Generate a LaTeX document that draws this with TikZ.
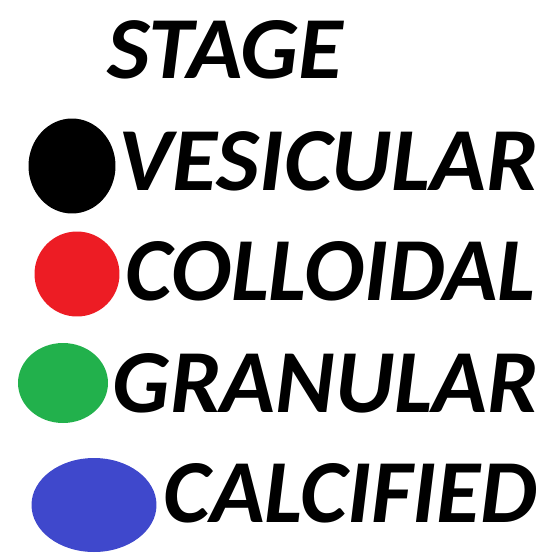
\documentclass[tikz,border=0pt]{standalone}
\usepackage{fontspec}
\setmainfont{Carlito}
\usetikzlibrary{positioning,shapes.geometric}
\definecolor{paintred}{HTML}{ED1C24}
\definecolor{paintgreen}{HTML}{22B14C}
\definecolor{paintblue}{HTML}{3F48CC}
% word squeezed into a given width, cap height fixed
\newcommand{\stageword}[2]{\resizebox{#1}{1.18cm}{\bfseries\itshape #2}}
\begin{document}
\begin{tikzpicture}[
  x=0.02cm, y=-0.02cm,
  dot/.style={ellipse, inner sep=0pt},
  stagename/.style={anchor=base west, inner sep=0pt}
]
\useasboundingbox (0,0) rectangle (558,555);
\node[stagename] (title) at (107,78) {\resizebox{4.72cm}{1.16cm}{\bfseries\itshape STAGE}};

\node[dot, fill=black, minimum width=1.74cm, minimum height=1.9cm] (vesdot) at (72,166) {};
\node[stagename] (vesicular) at (118,190) {\stageword{8.4cm}{VESICULAR}};

\node[dot, fill=paintred, minimum width=1.7cm, minimum height=1.7cm] (coldot) at (77,274) {};
\node[stagename] (colloidal) at (125,300) {\stageword{8.2cm}{COLLOIDAL}};

\node[dot, fill=paintgreen, minimum width=1.8cm, minimum height=1.6cm] (grandot) at (63,383) {};
\node[stagename] (granular) at (112,412) {\stageword{8.52cm}{GRANULAR}};

\node[dot, fill=paintblue, minimum width=2.5cm, minimum height=1.88cm] (caldot) at (94,505) {};
\node[stagename] (calcified) at (163,522) {\stageword{7.48cm}{CALCIFIED}};
\end{tikzpicture}
\end{document}
